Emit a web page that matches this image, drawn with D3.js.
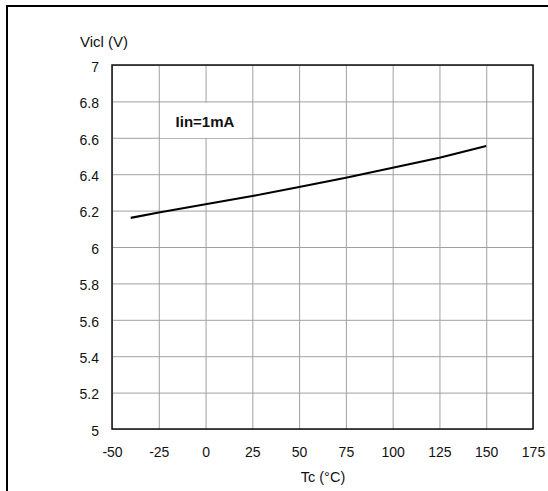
<!DOCTYPE html>
<html>
<head>
<meta charset="utf-8">
<title>Vicl vs Tc</title>
<script src="https://cdn.jsdelivr.net/npm/d3@7/dist/d3.min.js"></script>
<style>
  body { margin: 0; background: #fff; }
  text { font-family: "Liberation Sans", Arial, sans-serif; fill: #111; }
</style>
</head>
<body>
<div id="chart"></div>
<script>
// data
var temps = [-40, -25, 0, 25, 50, 75, 100, 125, 150];
var vicl  = [6.16, 6.19, 6.235, 6.28, 6.33, 6.38, 6.435, 6.49, 6.555];
var xTicks = [-50, -25, 0, 25, 50, 75, 100, 125, 150, 175];
var yTicks = [5, 5.2, 5.4, 5.6, 5.8, 6, 6.2, 6.4, 6.6, 6.8, 7];
var yLabel = "Vicl (V)";
var xLabel = "Tc (°C)";
var note = "Iin=1mA";

var w = 548, h = 491;
// plot area edges (don't call it "top", that's window.top)
var pLeft = 112, pRight = 533, pTop = 65, pBottom = 429;

var svg = d3.select("#chart").append("svg")
  .attr("width", w)
  .attr("height", h);

// outer frame (only left + top visible)
svg.append("rect")
  .attr("x", 7).attr("y", 6)
  .attr("width", w + 20).attr("height", h + 20)
  .attr("fill", "none")
  .attr("stroke", "#000")
  .attr("stroke-width", 2);

var x = d3.scaleLinear().domain([-50, 175]).range([pLeft, pRight]);
var y = d3.scaleLinear().domain([5, 7]).range([pBottom, pTop]);

// grid
svg.append("g")
  .attr("transform", "translate(0," + pBottom + ")")
  .call(d3.axisBottom(x).tickValues(xTicks).tickSize(-(pBottom - pTop)).tickFormat(""))
  .call(function(g) { g.select(".domain").remove(); })
  .selectAll("line").attr("stroke", "#a0a0a0").attr("stroke-width", 1);

svg.append("g")
  .attr("transform", "translate(" + pLeft + ",0)")
  .call(d3.axisLeft(y).tickValues(yTicks).tickSize(-(pRight - pLeft)).tickFormat(""))
  .call(function(g) { g.select(".domain").remove(); })
  .selectAll("line").attr("stroke", "#a0a0a0").attr("stroke-width", 1);

// label box covering the grid
svg.append("rect")
  .attr("x", 160).attr("y", 103)
  .attr("width", 89).attr("height", 35)
  .attr("fill", "#fff");

svg.append("text")
  .attr("x", 205).attr("y", 127)
  .attr("text-anchor", "middle")
  .attr("font-size", "15px")
  .attr("font-weight", "bold")
  .text(note);

// plot border
svg.append("rect")
  .attr("x", pLeft).attr("y", pTop)
  .attr("width", pRight - pLeft).attr("height", pBottom - pTop)
  .attr("fill", "none")
  .attr("stroke", "#111")
  .attr("stroke-width", 1.5);

// tick labels (plain hyphen for negatives, like the original)
svg.append("g")
  .attr("transform", "translate(0," + pBottom + ")")
  .call(d3.axisBottom(x).tickValues(xTicks).tickSize(0).tickPadding(18).tickFormat(function(d) { return String(d); }))
  .call(function(g) { g.select(".domain").remove(); })
  .selectAll("text")
  .attr("font-size", "14px")
  .attr("font-family", "Liberation Sans, Arial, sans-serif")
  .attr("fill", "#111");

svg.append("g")
  .attr("transform", "translate(" + pLeft + ",0)")
  .call(d3.axisLeft(y).tickValues(yTicks).tickSize(0).tickPadding(13).tickFormat(function(d) { return String(d); }))
  .call(function(g) { g.select(".domain").remove(); })
  .selectAll("text")
  .attr("dy", "0.45em")
  .attr("font-size", "14px")
  .attr("font-family", "Liberation Sans, Arial, sans-serif")
  .attr("fill", "#111");

// axis titles
svg.append("text")
  .attr("x", 80).attr("y", 47)
  .attr("font-size", "15px")
  .text(yLabel);

svg.append("text")
  .attr("x", 323).attr("y", 482)
  .attr("text-anchor", "middle")
  .attr("font-size", "14.5px")
  .text(xLabel);

// the curve - straight segments between the read points
var line = d3.line()
  .x(function(d, i) { return x(temps[i]); })
  .y(function(d) { return y(d); });

svg.append("path")
  .datum(vicl)
  .attr("d", line)
  .attr("fill", "none")
  .attr("stroke", "#000")
  .attr("stroke-width", 2.1)
  .attr("stroke-linejoin", "round");
</script>
</body>
</html>
